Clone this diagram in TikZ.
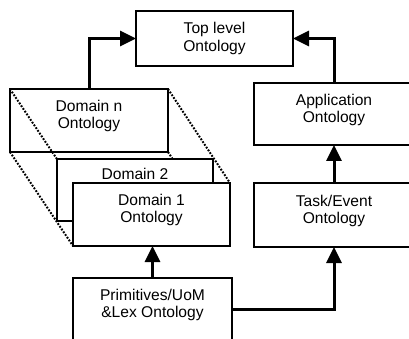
\documentclass[tikz,border=0pt]{standalone}
\usepackage{fontspec}
\setmainfont{Liberation Sans}
\usetikzlibrary{arrows.meta}
\pgfdeclarelayer{behind}
\pgfdeclarelayer{guides}
\pgfsetlayers{behind,guides,main}
\begin{document}
\begin{tikzpicture}[x=1pt,y=-1pt,
  box/.style={draw,line width=1.4pt,fill=white,inner sep=0pt,outer sep=0pt},
  lbl/.style={align=center,font=\fontsize{15.6}{17.5}\selectfont,inner sep=0pt},
  link/.style={line width=3pt,-{Triangle[length=16pt,width=15pt]}},
  hiddenedge/.style={line width=2pt,dash pattern=on 1.8pt off 1.5pt}]
\useasboundingbox (0,0) rectangle (409,339);
\clip (0,0) rectangle (409,339);

% ontology boxes
\node[box,minimum width=157pt,minimum height=55pt] (top) at (214.5,38.5) {};
\begin{pgfonlayer}{behind}
  \node[box,minimum width=158pt,minimum height=63pt] (domn) at (89,120.5) {};
  \node[lbl] (domnT) at ([yshift=4.5pt]domn.center) {Domain n\\Ontology};
\end{pgfonlayer}
\node[box,minimum width=156pt,minimum height=62pt] (dom2) at (135,190) {};
\node[lbl] (dom2T) at (135,173.5) {Domain 2};
\node[box,minimum width=157pt,minimum height=63pt] (dom1) at (151.5,214.5) {};
\node[box,minimum width=159pt,minimum height=63pt] (prim) at (152.5,309.5) {};
\node[box,minimum width=160pt,minimum height=64pt] (task) at (334,215) {};
\node[box,minimum width=160pt,minimum height=62pt] (app) at (334,114) {};

% labels
\node[lbl] (topT) at (top.center) {Top level\\Ontology};
\node[lbl] (dom1T) at ([yshift=4.5pt]dom1.center) {Domain 1\\Ontology};
\node[lbl] (primT) at (152.5,305) {Primitives/UoM\\\&Lex Ontology};
\node[lbl] (taskT) at ([yshift=4pt]task.center) {Task/Event\\Ontology};
\node[lbl] (appT) at ([yshift=4pt]app.center) {Application\\Ontology};

% stack edges joining Domain n to Domain 1
\begin{pgfonlayer}{guides}
  \draw[hiddenedge] (domn.north west) -- (dom1.north west);
  \draw[hiddenedge] (domn.south west) -- (dom1.south west);
  \draw[hiddenedge] (domn.north east) -- (dom1.north east);
  \draw[hiddenedge] (domn.south east) -- (dom1.south east);
\end{pgfonlayer}

% dependencies
\draw[link] (domn.north) |- (top.west);
\draw[link] (app.north) |- (top.east);
\draw[link] (task.north) -- (app.south);
\draw[link] (prim.east) -| (task.south);
\draw[link] (prim.north) -- (prim.north |- dom1.south);
\end{tikzpicture}
\end{document}
